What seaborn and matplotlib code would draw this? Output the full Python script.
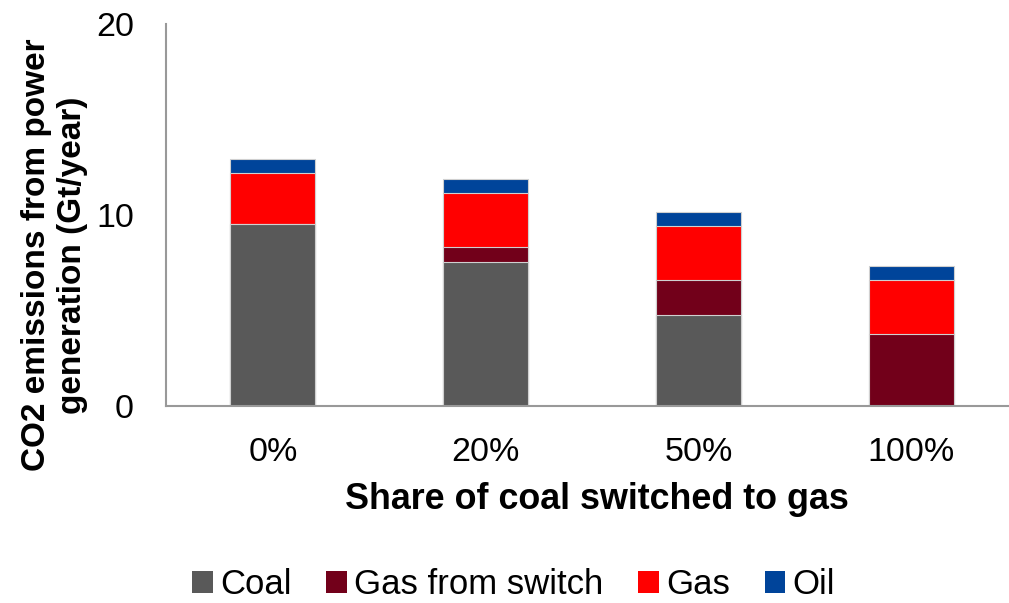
import matplotlib
matplotlib.use("Agg")
import matplotlib.pyplot as plt
from matplotlib.patches import Patch
import numpy as np
import pandas as pd
import seaborn as sns

# Scenario categories and emission components (Gt CO2 / year)
scenarios = ["0%", "20%", "50%", "100%"]
coal = [9.55, 7.54, 4.75, 0.0]
gas_from_switch = [0.0, 0.80, 1.86, 3.79]
gas = [2.66, 2.83, 2.80, 2.82]
oil = [0.72, 0.71, 0.73, 0.72]

series_names = ["Coal", "Gas from switch", "Gas", "Oil"]
series_colors = ["#595959", "#72001A", "#FF0000", "#00449A"]

sns.set_theme(style="white")
plt.rcParams["font.family"] = ["Liberation Sans", "DejaVu Sans"]
plt.rcParams["text.color"] = "black"
plt.rcParams["axes.labelcolor"] = "black"

df = pd.DataFrame({"scenario": scenarios, "Coal": coal,
                   "Gas from switch": gas_from_switch, "Gas": gas, "Oil": oil})
# cumulative tops of each stacked layer
cum = df[series_names].cumsum(axis=1)

fig = plt.figure(figsize=(10.09, 6.03), dpi=100)
ax = fig.add_axes([0.1650, 0.3267, 0.8435, 0.6335])

# draw the stack from the top layer down so lower layers cover upper ones
for name, color in reversed(list(zip(series_names, series_colors))):
    sns.barplot(x=df["scenario"], y=cum[name], color=color, saturation=1,
                width=0.4, edgecolor="#D0D0D0", linewidth=0.8, ax=ax)

ax.set_ylim(0, 20)
ax.set_xlim(-0.5, 3.5)
ax.set_yticks([0, 10, 20])
ax.set_xlabel("Share of coal switched to gas", fontsize=25.8, fontweight="bold")
ax.xaxis.set_label_coords(0.506, -0.200)
ax.set_ylabel("CO2 emissions from power\ngeneration (Gt/year)", fontsize=24,
              fontweight="bold")
ax.yaxis.set_label_coords(88 / 1009, 0.577, transform=fig.transFigure)

for s in ["top", "right"]:
    ax.spines[s].set_visible(False)
for s in ["left", "bottom"]:
    ax.spines[s].set_color("#999999")
    ax.spines[s].set_linewidth(1.5)

ax.tick_params(axis="y", length=0, pad=23.5, labelsize=24.5, colors="black")
ax.tick_params(axis="x", which="major", length=0, pad=22, labelsize=24.5, colors="black")
ax.set_xticks(np.arange(-0.5, 4.0, 1.0), minor=True)
ax.tick_params(axis="x", which="minor", length=8, width=1.5, color="#999999", direction="out")

handles = [Patch(facecolor=c, edgecolor="none", label=n) for n, c in zip(series_names, series_colors)]
fig.legend(handles=handles, loc="center", bbox_to_anchor=(0.509, 0.030), ncol=4,
           frameon=False, fontsize=25, handlelength=0.6, handleheight=0.6,
           handletextpad=0.2, columnspacing=1.0)

fig.savefig("out.png", dpi=100)
